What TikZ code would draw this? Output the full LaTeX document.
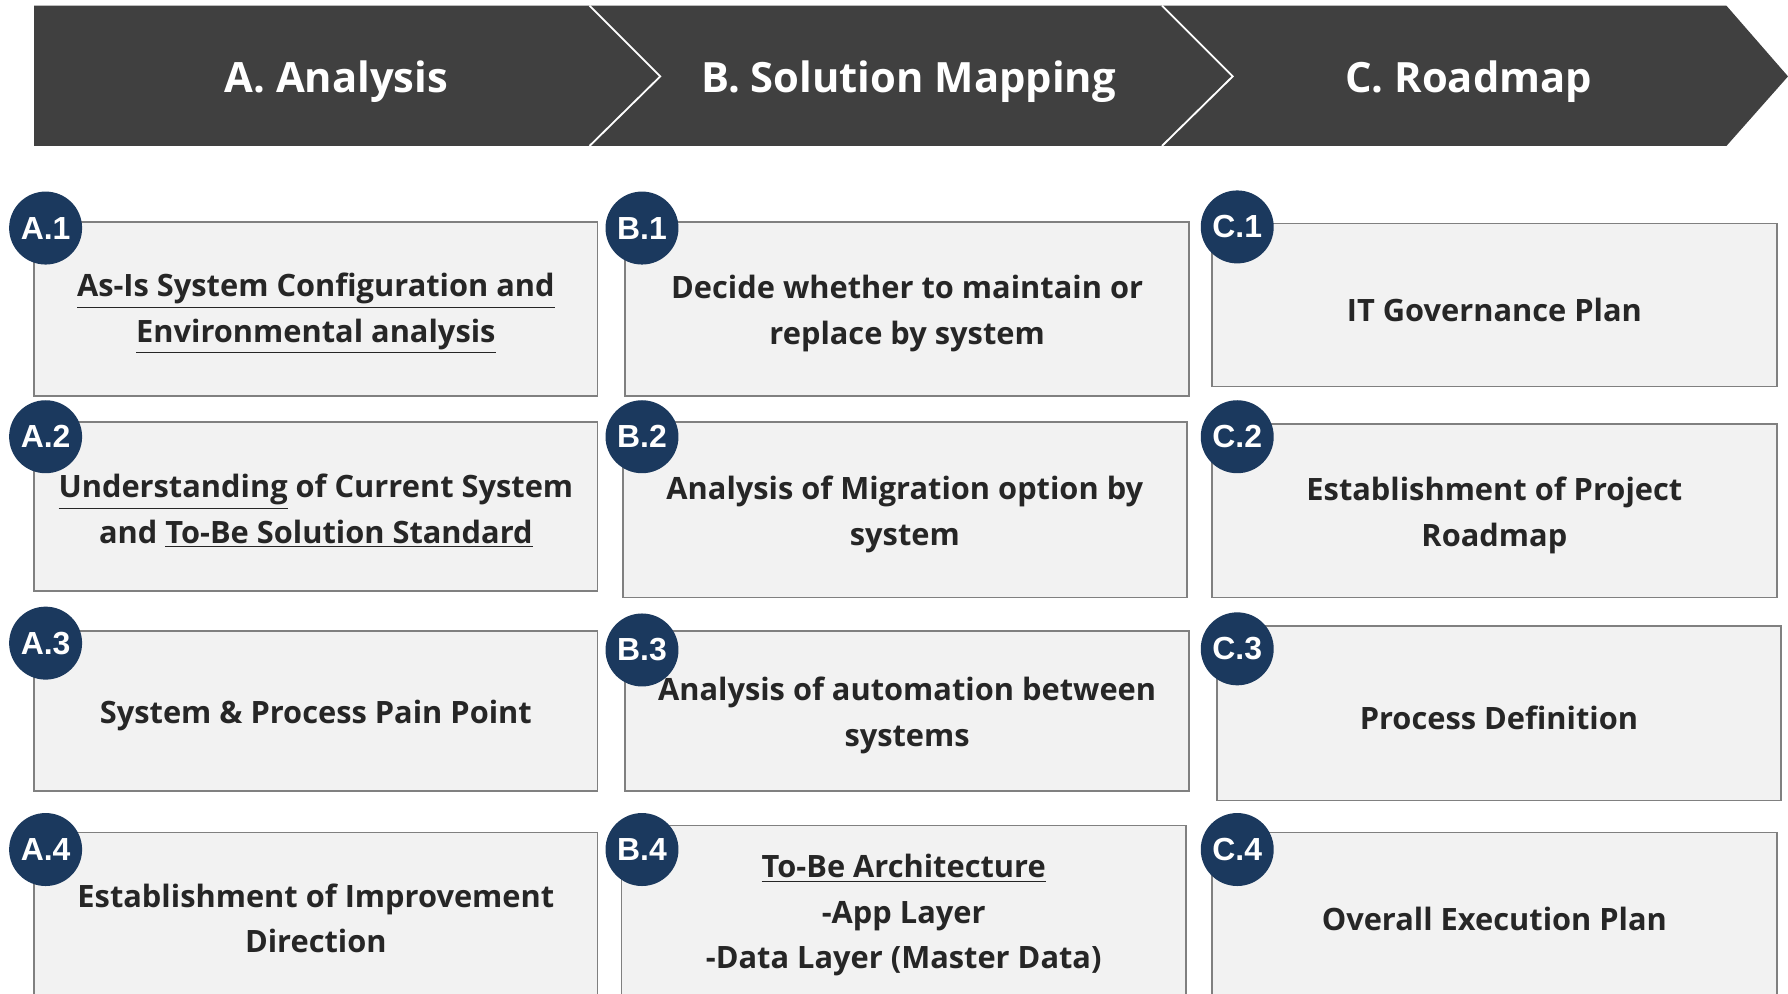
\documentclass[tikz,border=0pt]{standalone}
\usepackage{fontspec}
\setmainfont{Open Sans}
\newfontfamily\badgefont{Liberation Sans}
\definecolor{hdr}{RGB}{64,64,64}
\definecolor{navy}{RGB}{27,57,94}
\definecolor{boxfill}{RGB}{242,242,242}
\definecolor{boxline}{RGB}{128,128,128}
\definecolor{txt}{RGB}{38,38,38}
\newcommand\mybox[6]{\node[boxstyle, minimum width={(#4-#2)*0.5pt}, minimum height={(#5-#3)*0.5pt}] (#1) at ({(#2+#4)/2},{(#3+#5)/2}) {};
  \node[boxtext] (#1t) at ([yshift=-2pt]#1.center) {#6};}
\newcommand\mybadge[4]{\node[badgestyle] (#1) at (#2,#3) {#4};}
\begin{document}
\begin{tikzpicture}[x=0.5pt,y=-0.5pt,
  boxstyle/.style={draw=boxline, line width=0.8pt, fill=boxfill, inner sep=0pt},
  boxtext/.style={inner sep=0pt, align=center, text=txt, font=\fontsize{13.5}{20}\selectfont\bfseries},
  badgestyle/.style={circle, fill=navy, minimum size=32pt, inner sep=0pt, text=white, font=\badgefont\fontsize{14}{16}\selectfont\bfseries},
  hdrtext/.style={text=white, font=\fontsize{18.3}{22}\selectfont\bfseries},
  sepline/.style={draw=white, line width=0.8pt}]
\clip (0,0) rectangle (1568,871);
\fill[white] (0,0) rectangle (1568,871);
% header band
\fill[hdr] (30,5) -- (1514,5) -- (1568,67) -- (1514,128) -- (30,128) -- cycle;
\coordinate (s1a) at (517,5); \coordinate (s1b) at (579,67); \coordinate (s1c) at (517,128);
\coordinate (s2a) at (1019,5); \coordinate (s2b) at (1081,67); \coordinate (s2c) at (1019,128);
\draw[sepline] (s1a) -- (s1b) -- (s1c);
\draw[sepline] (s2a) -- (s2b) -- (s2c);
\node[hdrtext] (hA) at (295,72) {A. Analysis};
\node[hdrtext] (hB) at (797,72) {B. Solution Mapping};
\node[hdrtext] (hC) at (1288,72) {C. Roadmap};
% column A
\mybox{A1}{30}{195}{524}{347}{\underline{As-Is System Configuration and}\\\underline{Environmental analysis}}
\mybox{A2}{30}{370}{524}{518}{\underline{Understanding} of Current System\\and \underline{To-Be Solution Standard}}
\mybox{A3}{30}{553}{524}{694}{System \& Process Pain Point}
\mybox{A4}{30}{730}{524}{873}{Establishment of Improvement\\Direction}
% column B
\mybox{B1}{548}{195}{1043}{347}{Decide whether to maintain or\\replace by system}
\mybox{B2}{546}{370}{1041}{524}{Analysis of Migration option by\\system}
\mybox{B3}{548}{553}{1043}{694}{Analysis of automation between\\systems}
\mybox{B4}{545}{724}{1040}{873}{\underline{To-Be Architecture}\\-App Layer\\-Data Layer (Master Data)}
% column C
\mybox{C1}{1063}{196}{1558}{339}{IT Governance Plan}
\mybox{C2}{1063}{372}{1558}{524}{Establishment of Project\\Roadmap}
\mybox{C3}{1067}{549}{1562}{702}{Process Definition}
\mybox{C4}{1063}{730}{1558}{873}{Overall Execution Plan}
% badges
\mybadge{bA1}{40}{200}{A.1}
\mybadge{bA2}{40}{383}{A.2}
\mybadge{bA3}{40}{564}{A.3}
\mybadge{bA4}{40}{745}{A.4}
\mybadge{bB1}{563}{200}{B.1}
\mybadge{bB2}{563}{383}{B.2}
\mybadge{bB3}{563}{570}{B.3}
\mybadge{bB4}{563}{745}{B.4}
\mybadge{bC1}{1085}{199}{C.1}
\mybadge{bC2}{1085}{383}{C.2}
\mybadge{bC3}{1085}{569}{C.3}
\mybadge{bC4}{1085}{745}{C.4}
\end{tikzpicture}
\end{document}
